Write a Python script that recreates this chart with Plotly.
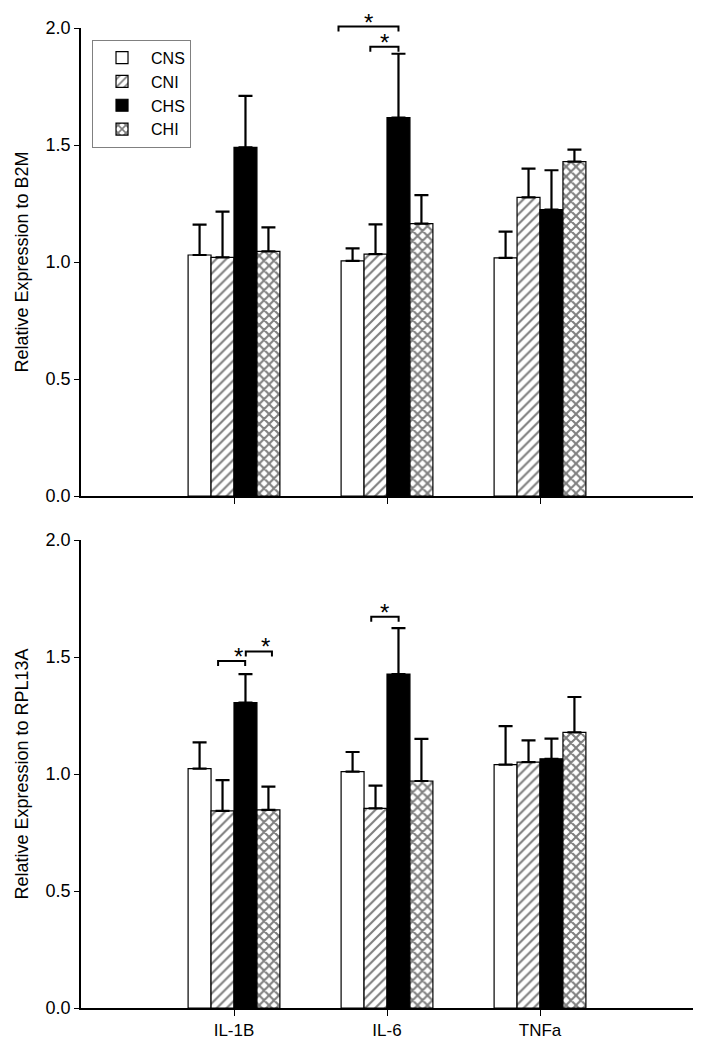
import plotly.graph_objects as go
from plotly.subplots import make_subplots

genes = ["IL-1B", "IL-6", "TNFa"]
groups = ["CNS", "CNI", "CHS", "CHI"]

# Top panel: relative expression to B2M (mean, upper SEM)
b2m_mean = {
    "CNS": [1.03, 1.005, 1.018],
    "CNI": [1.02, 1.034, 1.276],
    "CHS": [1.49, 1.617, 1.224],
    "CHI": [1.045, 1.164, 1.429],
}
b2m_sem = {
    "CNS": [0.13, 0.053, 0.112],
    "CNI": [0.195, 0.127, 0.123],
    "CHS": [0.22, 0.273, 0.168],
    "CHI": [0.103, 0.122, 0.051],
}

# Bottom panel: relative expression to RPL13A
rpl_mean = {
    "CNS": [1.023, 1.010, 1.040],
    "CNI": [0.842, 0.853, 1.051],
    "CHS": [1.305, 1.427, 1.065],
    "CHI": [0.847, 0.970, 1.178],
}
rpl_sem = {
    "CNS": [0.112, 0.084, 0.165],
    "CNI": [0.132, 0.097, 0.093],
    "CHS": [0.122, 0.196, 0.086],
    "CHI": [0.099, 0.180, 0.151],
}

# Significance brackets: (panel row, gene index, left offset, right offset, height)
brackets = [
    (1, 1, -0.317, 0.075, 2.006),
    (1, 1, -0.109, 0.075, 1.92),
    (2, 0, -0.104, 0.073, 1.483),
    (2, 0, 0.077, 0.248, 1.524),
    (2, 1, -0.103, 0.076, 1.672),
]

styles = {
    "CNS": dict(color="white", pattern=dict(shape="")),
    "CNI": dict(color="white", pattern=dict(shape="/", fgcolor="black", bgcolor="white", size=7, solidity=0.3)),
    "CHS": dict(color="black", pattern=dict(shape="")),
    "CHI": dict(color="white", pattern=dict(shape="x", fgcolor="black", bgcolor="white", size=7, solidity=0.5)),
}

FONT = "Liberation Sans, Arial, sans-serif"
XR = [-1, 3]
YR = [0, 2]

fig = make_subplots(rows=2, cols=1, vertical_spacing=0.0449)
xpos = list(range(len(genes)))

for row, means, sems in [(1, b2m_mean, b2m_sem), (2, rpl_mean, rpl_sem)]:
    for g in groups:
        st = styles[g]
        fig.add_trace(go.Bar(
            x=xpos, y=means[g], name=g, legendgroup=g, showlegend=(row == 1),
            marker=dict(color=st["color"], line=dict(color="black", width=1.2), pattern=st["pattern"]),
            error_y=dict(type="data", array=sems[g], arrayminus=[0] * len(genes), symmetric=False,
                         color="black", thickness=2.2, width=7),
        ), row=row, col=1)

for row in (1, 2):
    ax = "" if row == 1 else "2"
    for (r, gi, x0, x1, yv) in brackets:
        if r != row:
            continue
        fx0 = (gi + x0 - XR[0]) / (XR[1] - XR[0])
        fx1 = (gi + x1 - XR[0]) / (XR[1] - XR[0])
        fy = yv / (YR[1] - YR[0])
        leg = 5 / 468
        fig.add_shape(type="path",
                      path=f"M {fx0} {fy - leg} L {fx0} {fy} L {fx1} {fy} L {fx1} {fy - leg}",
                      xref=f"x{ax} domain", yref=f"y{ax} domain",
                      line=dict(color="black", width=2))
        fig.add_annotation(x=(fx0 + fx1) / 2, y=fy, xref=f"x{ax} domain", yref=f"y{ax} domain",
                           text="*", showarrow=False, yanchor="bottom", yshift=-11,
                           font=dict(family=FONT, size=24, color="black"))

# page body adds an 8px margin, so the figure is sized to fit the 701x1050 window
fig.update_layout(
    width=693, height=1034,
    margin=dict(l=73, r=8, t=20, b=34),
    paper_bgcolor="white", plot_bgcolor="white",
    barmode="group", bargap=0.4, bargroupgap=0,
    font=dict(family=FONT, size=17, color="black"),
    legend=dict(x=0.018, y=0.988, xanchor="left", yanchor="top",
                bordercolor="#808080", borderwidth=1, bgcolor="white",
                font=dict(family=FONT, size=16), tracegroupgap=0, itemwidth=48),
    showlegend=True,
)

for row, title in [(1, "Relative Expression to B2M"), (2, "Relative Expression to RPL13A")]:
    fig.update_xaxes(range=XR, tickvals=xpos, ticktext=(genes if row == 2 else [""] * 3),
                     showline=True, linecolor="black", linewidth=1.5,
                     ticks="outside", ticklen=6, tickcolor="black", tickwidth=1.2,
                     showgrid=False, zeroline=False, tickfont=dict(size=17),
                     automargin=False, row=row, col=1)
    fig.update_yaxes(range=YR, tickvals=[0, 0.5, 1.0, 1.5, 2.0], tickformat=".1f",
                     showline=True, linecolor="black", linewidth=1.5,
                     ticks="outside", ticklen=5, tickcolor="black", tickwidth=1.2,
                     showgrid=False, zeroline=False, tickfont=dict(size=18),
                     title=dict(text=title, font=dict(size=18), standoff=12),
                     automargin=False, row=row, col=1)

fig.write_html("out.html")
